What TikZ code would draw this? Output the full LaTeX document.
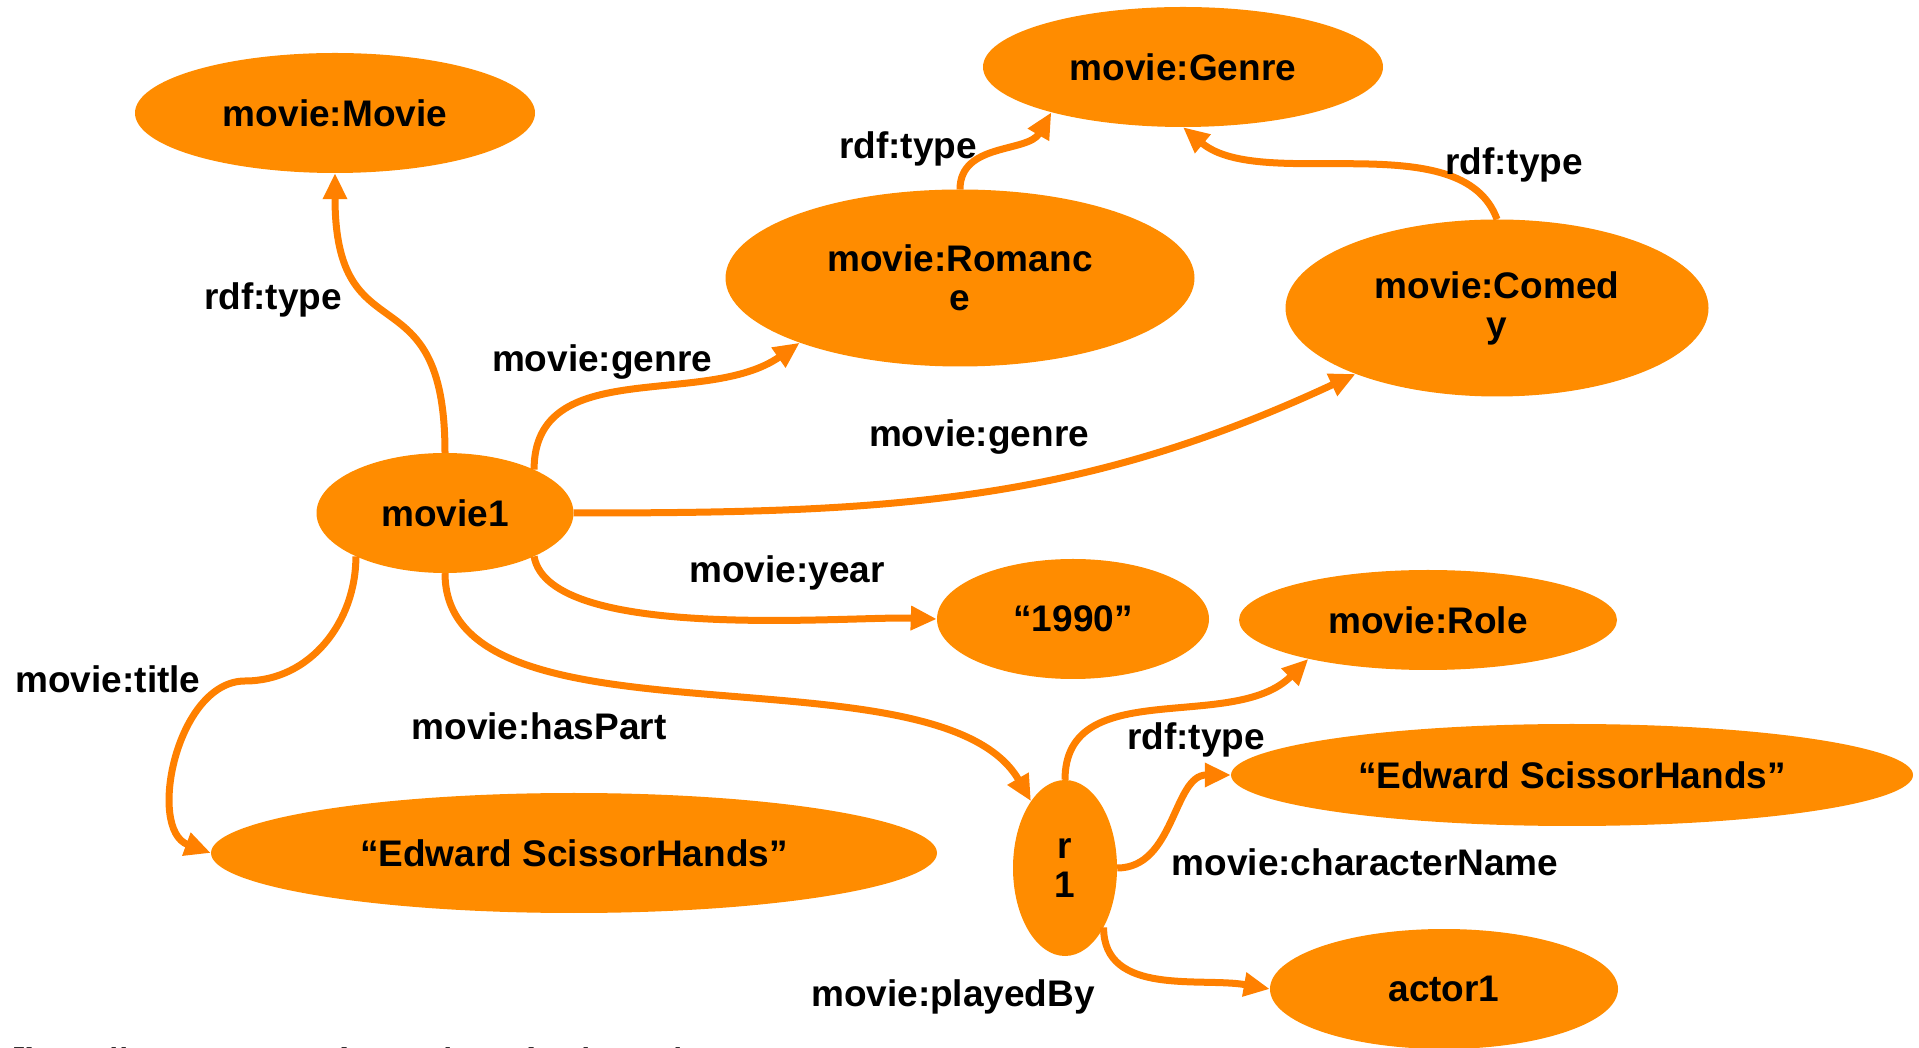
\documentclass[tikz,border=0pt]{standalone}
\usepackage{fontspec}
\setmainfont{Liberation Sans}
\usepackage{tikz}
\usetikzlibrary{arrows.meta,shapes.geometric}
\definecolor{moviefill}{RGB}{255,140,0}
\definecolor{movieline}{RGB}{255,128,0}

\begin{document}
\begin{tikzpicture}[x=1pt,y=1pt,
  font=\fontsize{37}{39}\selectfont\bfseries,
  res/.style={ellipse,fill=moviefill,inner sep=0pt,align=center},
  prop/.style={-{Triangle[length=26pt,width=23pt]},line width=7pt,draw=movieline},
  lbl/.style={inner sep=0pt}]
\useasboundingbox (0,0) rectangle (1919,1047);
\node[res,minimum width=400,minimum height=120] (Movie) at (335,934) {movie:Movie};
\node[res,minimum width=400,minimum height=120] (Genre) at (1183,980) {movie:Genre};
\node[res,minimum width=469,minimum height=177] (Romance) at (960,769) {movie:Romanc\\e};
\node[res,minimum width=423,minimum height=177] (Comedy) at (1497,739) {movie:Comed\\y};
\node[res,minimum width=257,minimum height=120] (movie1) at (445,534) {movie1};
\node[res,minimum width=272,minimum height=120] (year) at (1073,428) {“1990”};
\node[res,minimum width=378,minimum height=100] (Role) at (1428,427) {movie:Role};
\node[res,minimum width=682,minimum height=102] (EdR) at (1572,272) {“Edward ScissorHands”};
\node[res,minimum width=726,minimum height=120] (EdL) at (574,194) {“Edward ScissorHands”};
\node[res,minimum width=104,minimum height=176] (r1) at (1065,179) {r\\1};
\node[res,minimum width=348,minimum height=120] (actor1) at (1444,58) {actor1};
\coordinate (tbend) at (245,366);

\draw[prop] (movie1.north) to[out=90,in=-90,looseness=1.6] (Movie.south);
\draw[prop] (movie1.26) to[out=90,in=215] (Romance.202);
\draw[prop] (Romance.north) to[out=90,in=240] (Genre.199);
\draw[prop] (Comedy.north) to[out=110,in=-40,looseness=0.8] (Genre.south);
\draw[prop] (movie1.east) to[out=0,in=205] (Comedy.205);
\draw[prop] (movie1.-26) to[out=-80,in=178,looseness=0.55] (year.west);
\draw[prop] (movie1.south) to[out=-90,in=120,looseness=0.75] (r1.117);
\draw[prop] (movie1.206) to[out=-90,in=0] (tbend) to[out=180,in=160] (EdL.west);
\draw[prop] (r1.north) to[out=90,in=225] (Role.198);
\draw[prop] (r1.east) to[out=0,in=180] (EdR.west);
\draw[prop] (r1.-57) to[out=-90,in=170] (actor1.west);

\node[lbl] (ltype1) at (273,747) {rdf:type};
\node[lbl] (lgenre1) at (602,685) {movie:genre};
\node[lbl] (ltype2) at (908,898) {rdf:type};
\node[lbl] (ltype3) at (1514,882) {rdf:type};
\node[lbl] (lgenre2) at (979,610) {movie:genre};
\node[lbl] (lyear) at (787,474) {movie:year};
\node[lbl] (ltitle) at (108,368) {movie:title};
\node[lbl] (lpart) at (539,321) {movie:hasPart};
\node[lbl] (ltype4) at (1196,307) {rdf:type};
\node[lbl] (lchar) at (1365,185) {movie:characterName};
\node[lbl] (lplay) at (953,50) {movie:playedBy};
\node[lbl,anchor=base west] (url) at (12,-27) {[http://www.example.org/movies/2001/};
\end{tikzpicture}
\end{document}
